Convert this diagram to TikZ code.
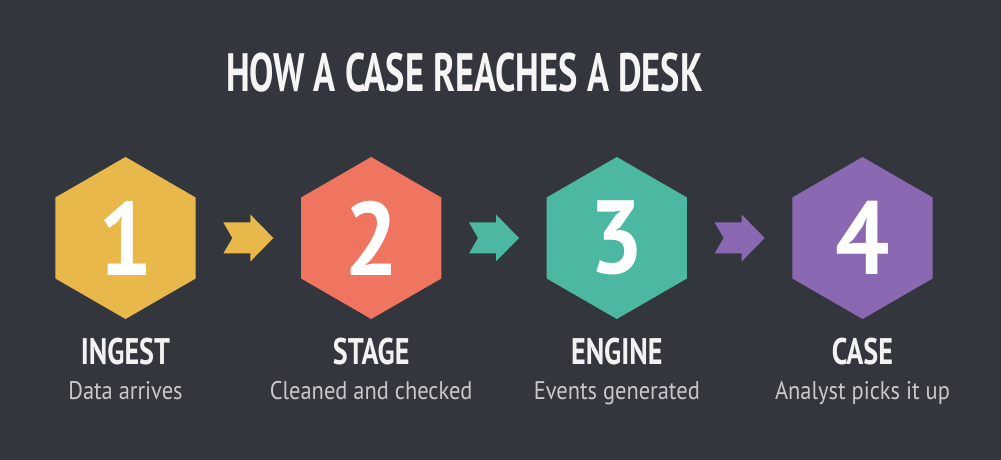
\documentclass[tikz,border=0pt]{standalone}
\usepackage{fontspec}
\setmainfont{PT Sans}
\newfontfamily\titlefont[FakeStretch=0.675]{PT Sans}
\newfontfamily\labfont[FakeStretch=0.76]{PT Sans}
\newfontfamily\subfont[FakeStretch=0.88]{PT Sans}
\newfontfamily\numfont[FakeStretch=0.92]{PT Sans}
\usetikzlibrary{positioning,shapes.geometric,calc}

\definecolor{bgdark}{HTML}{33363D}
\definecolor{hexgold}{HTML}{E8B84A}
\definecolor{hexcoral}{HTML}{F07560}
\definecolor{hexteal}{HTML}{4DB8A2}
\definecolor{hexpurple}{HTML}{8A68B2}
\definecolor{subgray}{HTML}{C9C9C9}

% chevron arrow between two steps
\newcommand{\stepchev}[2]{%
  \fill[#2] ($(#1)+(-25,15.5)$) -- ++(27,0) -- ++(0,8) -- ($(#1)+(25,0)$)
    -- ($(#1)+(2,-23.5)$) -- ++(0,8) -- ++(-27,0) -- ($(#1)+(-16,0)$) -- cycle;}

\begin{document}
\begin{tikzpicture}[
  x=1pt, y=1pt,
  hex/.style={regular polygon, regular polygon sides=6, shape border rotate=30,
    minimum size=162pt, inner sep=0pt, outer sep=0pt},
  num/.style={text=white, font=\numfont\bfseries\fontsize{104}{104}\selectfont},
  ttl/.style={text=white!96!black, font=\titlefont\bfseries\fontsize{54}{54}\selectfont},
  lab/.style={text=white!95!black, font=\labfont\bfseries\fontsize{37}{37}\selectfont, anchor=base},
  sub/.style={text=subgray, font=\subfont\fontsize{25.5}{25.5}\selectfont, anchor=base}
]
\fill[bgdark] (0,0) rectangle (1001,460);
\useasboundingbox (0,0) rectangle (1001,460);

\node[ttl, anchor=base] (title) at (464.5,368) {HOW A CASE REACHES A DESK};

\node[hex, fill=hexgold] (h1) at (125.5,222) {};
\node[hex, fill=hexcoral] (h2) at (371.2,222) {};
\node[hex, fill=hexteal] (h3) at (616.8,222) {};
\node[hex, fill=hexpurple] (h4) at (862.5,222) {};

\node[num] (n1) at (h1) {1};
\node[num] (n2) at (h2) {2};
\node[num] (n3) at (h3) {3};
\node[num] (n4) at (h4) {4};

\coordinate (a1) at ($(h1)!0.5!(h2)$);
\coordinate (a2) at ($(h2)!0.5!(h3)$);
\coordinate (a3) at ($(h3)!0.5!(h4)$);
\stepchev{a1}{hexgold}
\stepchev{a2}{hexteal}
\stepchev{a3}{hexpurple}

\node[lab] (l1) at ([yshift=-45]h1.south) {INGEST};
\node[lab] (l2) at ([yshift=-45]h2.south) {STAGE};
\node[lab] (l3) at ([yshift=-45]h3.south) {ENGINE};
\node[lab] (l4) at ([yshift=-45]h4.south) {CASE};

\node[sub] (s1) at ([yshift=-35]l1.base) {Data arrives};
\node[sub] (s2) at ([yshift=-35]l2.base) {Cleaned and checked};
\node[sub] (s3) at ([yshift=-35]l3.base) {Events generated};
\node[sub] (s4) at ([yshift=-35]l4.base) {Analyst picks it up};
\end{tikzpicture}
\end{document}
